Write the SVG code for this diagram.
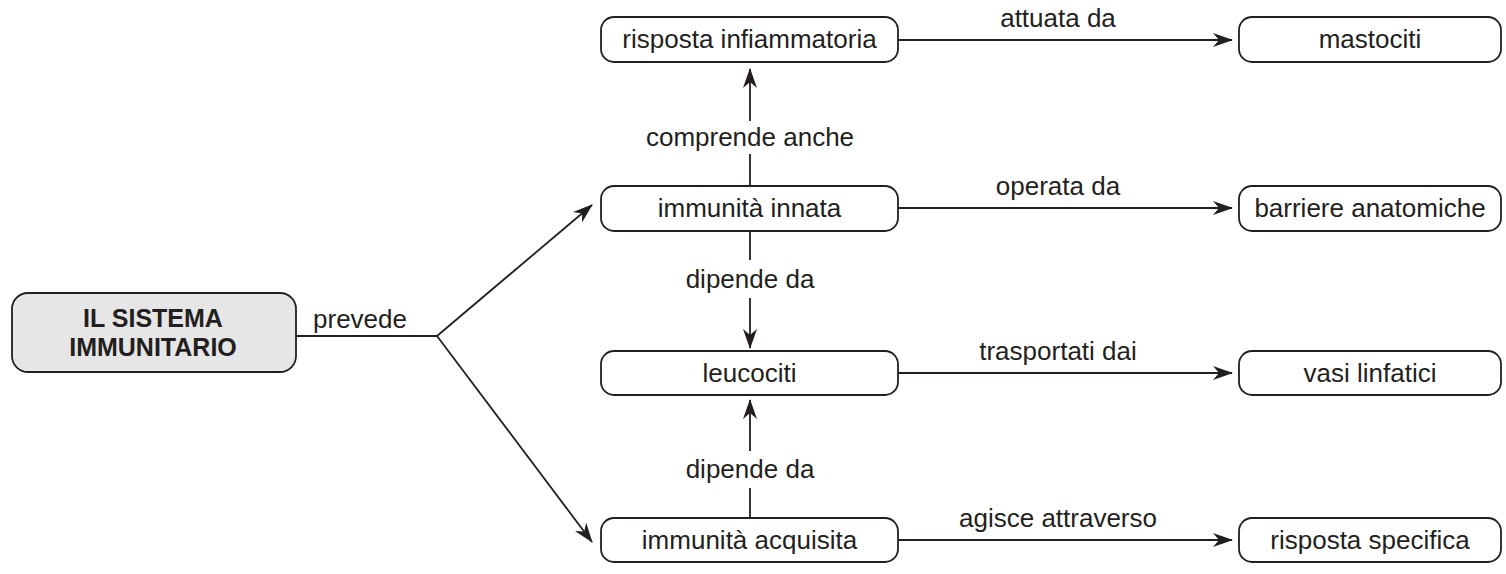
<svg xmlns="http://www.w3.org/2000/svg" width="1506" height="574" viewBox="0 0 1506 574">
<style>
.box{fill:#fff;stroke:#231f20;stroke-width:1.8}
.main{fill:#e6e6e6;stroke:#231f20;stroke-width:1.8}
.t{font-family:"Liberation Sans",Arial,sans-serif;font-size:26px;fill:#231f20;text-anchor:middle}
.b{font-family:"Liberation Sans",Arial,sans-serif;font-size:25px;font-weight:bold;fill:#231f20;text-anchor:middle}
.c{fill:none;stroke:#231f20;stroke-width:1.8}
</style>
<defs>
<marker id="ah" markerUnits="userSpaceOnUse" viewBox="0 0 20 14" refX="19" refY="7" markerWidth="20" markerHeight="14" orient="auto">
<path d="M0,0 L20,7 L0,14 L6,7 z" fill="#231f20"/>
</marker>
</defs>
<g id="connectors">
<polyline class="c" points="296,336 437,336"/>
<line class="c" x1="437" y1="336" x2="592" y2="205" marker-end="url(#ah)"/>
<line class="c" x1="437" y1="336" x2="592" y2="542" marker-end="url(#ah)"/>
<line class="c" x1="898" y1="40" x2="1232" y2="40" marker-end="url(#ah)"/>
<line class="c" x1="898" y1="208" x2="1232" y2="208" marker-end="url(#ah)"/>
<line class="c" x1="898" y1="373" x2="1232" y2="373" marker-end="url(#ah)"/>
<line class="c" x1="898" y1="540" x2="1232" y2="540" marker-end="url(#ah)"/>
<line class="c" x1="750" y1="186" x2="750" y2="154"/>
<line class="c" x1="750" y1="121" x2="750" y2="69" marker-end="url(#ah)"/>
<line class="c" x1="750" y1="231" x2="750" y2="260"/>
<line class="c" x1="750" y1="298" x2="750" y2="348" marker-end="url(#ah)"/>
<line class="c" x1="750" y1="518" x2="750" y2="488"/>
<line class="c" x1="750" y1="451" x2="750" y2="400" marker-end="url(#ah)"/>
<text class="t" x="360" y="328">prevede</text>
<text class="t" x="1058" y="27">attuata da</text>
<text class="t" x="1058" y="195">operata da</text>
<text class="t" x="1058" y="360">trasportati dai</text>
<text class="t" x="1058" y="527">agisce attraverso</text>
<text class="t" x="750" y="146">comprende anche</text>
<text class="t" x="750" y="288">dipende da</text>
<text class="t" x="750" y="478">dipende da</text>
</g>
<g id="n-sistema">
<rect class="main" x="12" y="293" width="284" height="79" rx="16"/>
<text class="b" x="153" y="327">IL SISTEMA</text>
<text class="b" x="153" y="356">IMMUNITARIO</text>
</g>
<g id="n-risposta-inf">
<rect class="box" x="601" y="17" width="297" height="45" rx="13"/>
<text class="t" x="749.5" y="48">risposta infiammatoria</text>
</g>
<g id="n-innata">
<rect class="box" x="601" y="186" width="297" height="45" rx="13"/>
<text class="t" x="749.5" y="217">immunità innata</text>
</g>
<g id="n-leucociti">
<rect class="box" x="601" y="351" width="297" height="44" rx="13"/>
<text class="t" x="749.5" y="382">leucociti</text>
</g>
<g id="n-acquisita">
<rect class="box" x="601" y="518" width="297" height="44" rx="13"/>
<text class="t" x="749.5" y="549">immunità acquisita</text>
</g>
<g id="n-mastociti">
<rect class="box" x="1239" y="17" width="262" height="45" rx="13"/>
<text class="t" x="1370" y="48">mastociti</text>
</g>
<g id="n-barriere">
<rect class="box" x="1239" y="186" width="262" height="45" rx="13"/>
<text class="t" x="1370" y="217">barriere anatomiche</text>
</g>
<g id="n-vasi">
<rect class="box" x="1239" y="351" width="262" height="44" rx="13"/>
<text class="t" x="1370" y="382">vasi linfatici</text>
</g>
<g id="n-risposta-spec">
<rect class="box" x="1239" y="518" width="262" height="44" rx="13"/>
<text class="t" x="1370" y="549">risposta specifica</text>
</g>
</svg>
